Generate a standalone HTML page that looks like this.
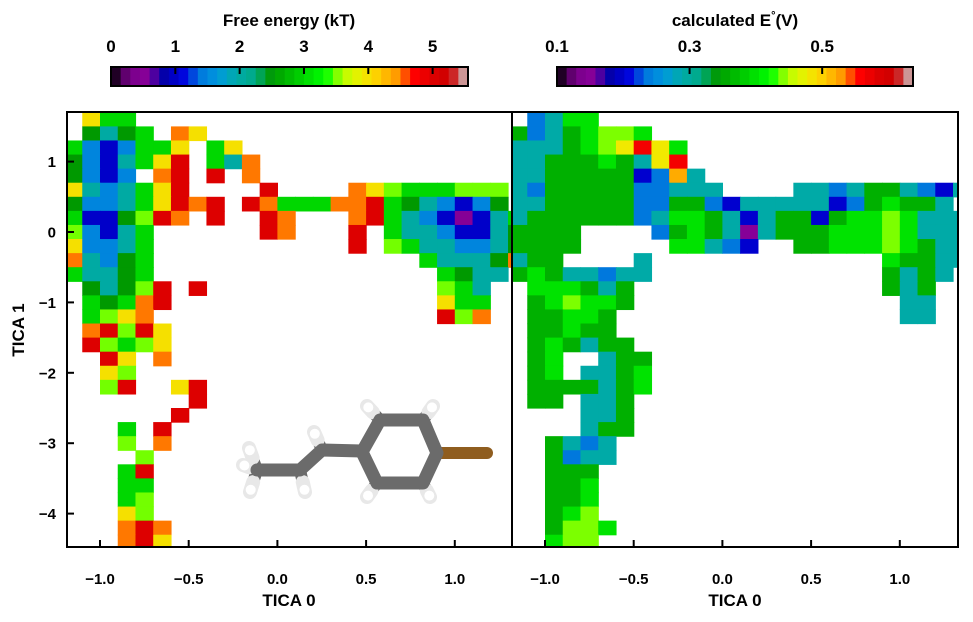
<!DOCTYPE html>
<html><head><meta charset="utf-8"><style>
body{margin:0;background:#fff;width:973px;height:617px;overflow:hidden}
text{font-family:"Liberation Sans",Arial,sans-serif;font-weight:bold;fill:#000}
</style></head><body>
<svg id="chart" width="973" height="617" viewBox="0 0 973 617">
<defs>
<clipPath id="clipL"><rect x="67" y="112" width="445" height="435"/></clipPath>
<clipPath id="clipR"><rect x="512" y="112" width="446" height="435"/></clipPath>
</defs>
<g id="cellsL" clip-path="url(#clipL)"></g>
<g id="cellsR" clip-path="url(#clipR)"></g>
<g id="molecule"></g>
<g id="axes"></g>
<g id="cbars"></g>
<text x="289" y="26" text-anchor="middle" font-size="17">Free energy (kT)</text>
<text x="735" y="26" text-anchor="middle" font-size="17">calculated E<tspan dy="-7" font-size="11">°</tspan><tspan dy="7">(V)</tspan></text>
<text x="289" y="606" text-anchor="middle" font-size="17">TICA 0</text>
<text x="735" y="606" text-anchor="middle" font-size="17">TICA 0</text>
<text x="0" y="0" transform="translate(24,330) rotate(-90)" text-anchor="middle" font-size="17">TICA 1</text>
</svg>
<script>
// grid: columns x from -1.2 step 0.1 (26), rows y from 1.7 step -0.2 (31)
const gridX0 = -1.2, gridDX = 0.1, gridY0 = 1.7, gridDY = -0.2;
const feLevels = [0.5,1.0,1.5,2.0,2.5,3.0,3.5,4.0,4.5,5.0];
const eLevels = [0.15,0.2,0.235,0.29,0.36,0.4,0.44,0.48,0.52,0.565];
const feRows = [
".755......................",
".4345.87..................",
"5212557.57................",
"4213579.538...............",
"4212.89.9.8...............",
"7323579....9....876555666.",
"4223579" + "89" + "." + "985558895" + "432124" + ".",
"5114698.9..98...8953210135",
"62135......98...9.53321134",
"72235...........9.65332234",
"83245...............533348",
"53345................5433.",
".43469.9.............653..",
".54589...............755..",
".5678................968..",
".89697....................",
".96567....................",
"..97.8....................",
"..76......................",
"..69..79..................",
".......9..................",
"......9...................",
"...5.9....................",
"...6.8....................",
"....6.....................",
"...59.....................",
"...55.....................",
"...56.....................",
"...76.....................",
"...898....................",
"...897...................."
];
const eRows = [
".2355.....................",
"42345665..................",
"3334567975................",
"3344454379................",
"33444441283...............",
"324444422333....3323443213",
"3344444224421333331245443.",
"34444442355431344145565333",
"4444....245430344455565333",
"4444.....55321..4455565433",
"344....3.............54433",
"45433233.............4343.",
".555434..............434..",
".456554...............33..",
".44554................33..",
".44544....................",
".454344...................",
".45..344..................",
".45.3345..................",
".4444345..................",
".44.334...................",
"....334...................",
"....344...................",
"..4323....................",
"..4233....................",
"..444.....................",
"..445.....................",
"..445.....................",
"..456.....................",
"..4665....................",
"..566....................."
];
const xTicks = [-1.0,-0.5,0.0,0.5,1.0];
const xTickLabels = ["\u22121.0","\u22120.5","0.0","0.5","1.0"];
const yTicks = [1,0,-1,-2,-3,-4];
const yTickLabels = ["1","0","\u22121","\u22122","\u22123","\u22124"];
const feTicks = [0,1,2,3,4,5];
const eTicks = [0.1,0.3,0.5];
const eTickLabels = ["0.1","0.3","0.5"];

const NS="http://www.w3.org/2000/svg";
function mk(tag,attrs,parent){const e=document.createElementNS(NS,tag);for(const k in attrs)e.setAttribute(k,attrs[k]);parent.appendChild(e);return e;}
// nipy_spectral
const R=[0,.4667,.5333,0,0,0,0,0,0,0,0,0,0,.7333,.9333,1,1,1,.8667,.8,.8];
const G=[0,0,0,0,0,.4667,.6,.6667,.6667,.6,.7333,.8667,1,1,.9333,.8,.6,0,0,0,.8];
const B=[0,.5333,.6,.6667,.8667,.8667,.8667,.6667,.5333,0,0,0,0,0,0,0,0,0,0,0,.8];
function cmap(t){t=Math.max(0,Math.min(1,t));const p=t*20,i=Math.min(19,Math.floor(p)),f=p-i;
 const c=a=>Math.round(255*(a[i]+(a[i+1]-a[i])*f));return `rgb(${c(R)},${c(G)},${c(B)})`;}
const feMin=0,feMax=5.55,eMin=0.1,eMax=0.637;
// axis functions
const pxPerX=177.4, pxPerY=70.4;
const xL=v=>100+(v+1)*pxPerX, xR=v=>545+(v+1)*pxPerX, yS=v=>232-v*pxPerY;

function drawCells(rows,levels,g,xf,vmin,vmax,name){
 rows.forEach((row,r)=>{for(let c=0;c<row.length;c++){const ch=row[c];if(ch==='.')continue;
  const v=levels[+ch];const x0=xf(gridX0+c*gridDX),x1=xf(gridX0+(c+1)*gridDX);
  const y0=yS(gridY0+r*gridDY),y1=yS(gridY0+(r+1)*gridDY);
  const el=mk('rect',{x:x0.toFixed(2),y:y0.toFixed(2),width:(x1-x0+0.6).toFixed(2),height:(y1-y0+0.6).toFixed(2),fill:cmap((v-vmin)/(vmax-vmin))},g);
  
  
 }});
}
drawCells(feRows,feLevels,document.getElementById('cellsL'),xL,feMin,feMax,'free-energy-cell');
drawCells(eRows,eLevels,document.getElementById('cellsR'),xR,eMin,eMax,'potential-cell');

// molecule
const mol=document.getElementById('molecule');
const grey='#6b6b6b';
const Hs=[[380,420,367,406],[423,420,433,406],[377,483,367,497],[423,483,430,497],[322,450,314,432],[300,470,305,492],[257,470,249,448],[257,470,243,465],[257,470,250,492]];
Hs.forEach(h=>{mk('line',{x1:h[0],y1:h[1],x2:h[2],y2:h[3],stroke:grey,'stroke-width':12,'stroke-linecap':'round'},mol);});
Hs.forEach(h=>{const dx=h[2]-h[0],dy=h[3]-h[1];mk('line',{x1:h[0]+dx*0.55,y1:h[1]+dy*0.55,x2:h[2],y2:h[3],stroke:'#e8e8e8','stroke-width':14,'stroke-linecap':'round'},mol);
 mk('circle',{cx:h[2]-dx*0.1,cy:h[3]-dy*0.1,r:5,fill:'#ffffff'},mol);});
mk('line',{x1:437,y1:453,x2:487,y2:453,stroke:'#8f5d1f','stroke-width':12,'stroke-linecap':'round'},mol);
mk('polyline',{points:'257,470 300,470 322,450 362,451',fill:'none',stroke:grey,'stroke-width':13,'stroke-linecap':'round','stroke-linejoin':'round'},mol);
mk('polygon',{points:'380,420 423,420 437,453 423,483 377,483 362,452',fill:'none',stroke:grey,'stroke-width':13,'stroke-linejoin':'round'},mol);

// axes
const ax=document.getElementById('axes');
mk('rect',{x:67,y:112,width:891,height:435,fill:'none',stroke:'#000','stroke-width':2},ax);
mk('line',{x1:512,y1:112,x2:512,y2:547,stroke:'#000','stroke-width':2},ax);
xTicks.forEach((v,i)=>{
 [xL,xR].forEach(f=>{const x=f(v);
  mk('line',{x1:x,y1:547,x2:x,y2:540,stroke:'#000','stroke-width':2},ax);
  const t=mk('text',{x:x,y:584,'text-anchor':'middle','font-size':15},ax);t.textContent=xTickLabels[i];
  
  
 });
});
yTicks.forEach((v,i)=>{const y=yS(v);
 mk('line',{x1:67,y1:y,x2:74,y2:y,stroke:'#000','stroke-width':2},ax);
 const t=mk('text',{x:56,y:y+5.5,'text-anchor':'end','font-size':15},ax);t.textContent=yTickLabels[i];
 
 
});

// colorbars
const cb=document.getElementById('cbars');
function cbar(x0,x1,vmin,vmax,ticks,labels,name){
 const n=37,w=(x1-x0)/n;
 for(let i=0;i<n;i++){mk('rect',{x:(x0+i*w).toFixed(2),y:67,width:(w+0.5).toFixed(2),height:19,fill:cmap((i+0.5)/n)},cb);}
 mk('rect',{x:x0,y:67,width:x1-x0,height:19,fill:'none',stroke:'#000','stroke-width':2},cb);
 ticks.forEach((v,i)=>{const x=x0+(v-vmin)/(vmax-vmin)*(x1-x0);
  if(i>0||v>vmin) mk('line',{x1:x,y1:67,x2:x,y2:74,stroke:'#000','stroke-width':2},cb);
  const t=mk('text',{x:x,y:52,'text-anchor':'middle','font-size':17},cb);t.textContent=labels[i];
  
  
 });
}
cbar(111,468,feMin,feMax,feTicks,feTicks.map(String),'free-energy-colorbar');
cbar(557,913,eMin,eMax,eTicks,eTickLabels,'potential-colorbar');
</script>
</body></html>
